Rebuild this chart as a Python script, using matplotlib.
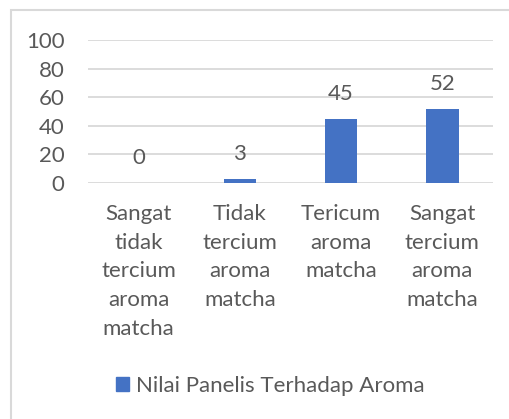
import matplotlib
matplotlib.use("Agg")
import matplotlib.pyplot as plt
from matplotlib.patches import Rectangle, Patch

categories = [
    "Sangat\ntidak\ntercium\naroma\nmatcha",
    "Tidak\ntercium\naroma\nmatcha",
    "Tericum\naroma\nmatcha",
    "Sangat\ntercium\naroma\nmatcha",
]
values = [0, 3, 45, 52]
series_name = "Nilai Panelis Terhadap Aroma"
yticks = [0, 20, 40, 60, 80, 100]

TXT = "#595959"
GRID = "#d9d9d9"
BAR = "#4472C4"
FONT = "Lato"
FS = 16

W, H = 509, 419
fig = plt.figure(figsize=(W / 100, H / 100), dpi=100)
ax = fig.add_axes([88 / W, 1 - 183 / H, (493 - 88) / W, (183 - 40) / H])

x = list(range(len(categories)))
bars = ax.bar(x, values, width=0.32, color=BAR, zorder=3)
ax.set_xlim(-0.5, len(categories) - 0.5)
ax.set_ylim(0, 100)
ax.set_yticks(yticks)
ax.set_yticklabels([str(t) for t in yticks], fontsize=FS, color=TXT, family=FONT)
ax.set_xticks(x)
ax.set_xticklabels(categories, fontsize=FS, color=TXT, family=FONT,
                   linespacing=1.55, va="top")
ax.tick_params(axis="y", length=0, pad=17)
ax.tick_params(axis="x", length=0, pad=15)
ax.yaxis.grid(True, color=GRID, linewidth=1.3, zorder=0)
for s in ax.spines.values():
    s.set_visible(False)

for xi, v in zip(x, values):
    ax.annotate(str(v), (xi, v), xytext=(0, 18), textcoords="offset points",
                ha="center", va="center", fontsize=FS, color=TXT, family=FONT)

leg = fig.legend([Patch(color=BAR)], [series_name], loc="center",
                 bbox_to_anchor=(270 / W, 1 - 386 / H), frameon=False,
                 prop={"family": FONT, "size": FS}, handlelength=0.6,
                 handleheight=0.6, handletextpad=0.3)
for t in leg.get_texts():
    t.set_color(TXT)

fig.patches.append(Rectangle((11 / W, -0.1), 1.2, 1 - 10 / H + 0.1,
                             transform=fig.transFigure, fill=False,
                             edgecolor=GRID, linewidth=1.5))

fig.savefig("out.png", dpi=100)
